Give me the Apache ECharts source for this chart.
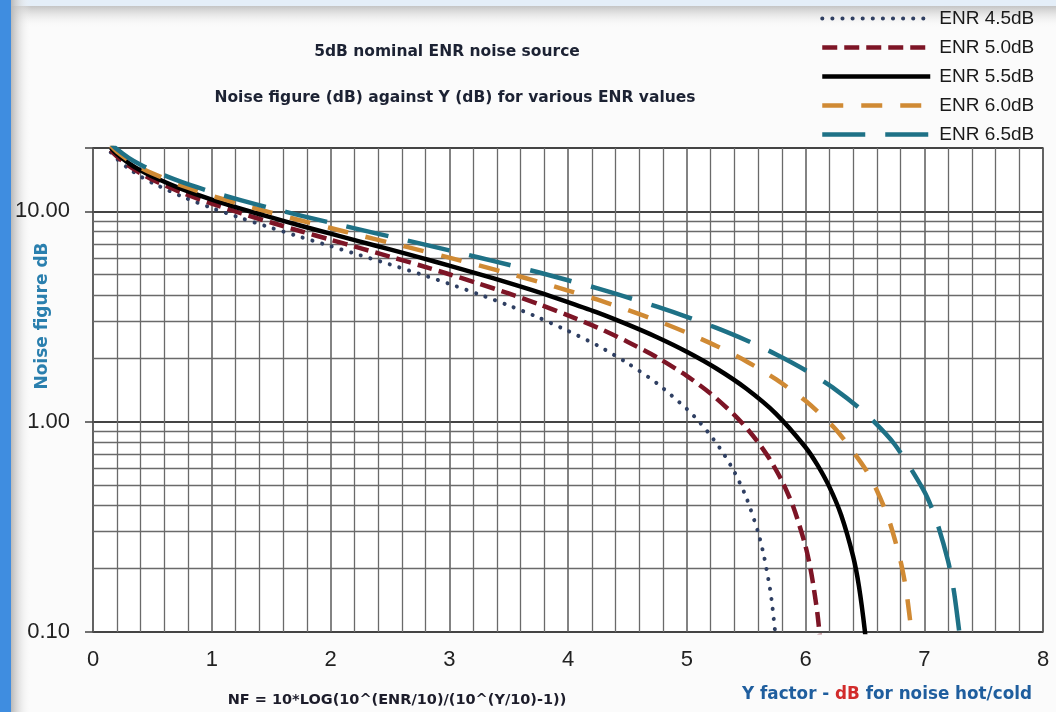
<!DOCTYPE html>
<html>
<head>
<meta charset="utf-8">
<script src="https://cdn.jsdelivr.net/npm/echarts@6/dist/echarts.min.js"></script>
<style>
html,body{margin:0;padding:0;background:#fbfbfb;}
#c{width:1056px;height:712px;}
</style>
</head>
<body>
<div id="c"></div>
<script>
// Values: [Y factor dB, Noise figure dB]
var enr45 = [[0.15,19.04],[0.2,17.77],[0.3,15.96],[0.4,14.65],[0.5,13.64],[0.75,11.75],[1,10.37],[1.25,9.27],[1.5,8.35],[1.75,7.54],[2,6.83],[2.25,6.18],[2.5,5.59],[2.75,5.04],[3,4.52],[3.25,4.03],[3.5,3.57],[3.75,3.13],[4,2.70],[4.25,2.30],[4.5,1.90],[4.75,1.52],[5,1.15],[5.1,1.006],[5.2,0.861],[5.3,0.719],[5.4,0.578],[5.5,0.438],[5.6,0.299],[5.65,0.230],[5.7,0.162],[5.72,0.134],[5.75,0.093]];
var enr50 = [[0.15,19.54],[0.2,18.27],[0.3,16.46],[0.4,15.15],[0.5,14.14],[0.75,12.25],[1,10.87],[1.25,9.77],[1.5,8.85],[1.75,8.04],[2,7.33],[2.25,6.68],[2.5,6.09],[2.75,5.54],[3,5.02],[3.25,4.53],[3.5,4.07],[3.75,3.63],[4,3.20],[4.25,2.80],[4.5,2.40],[4.75,2.02],[5,1.65],[5.2,1.361],[5.4,1.078],[5.5,0.938],[5.6,0.799],[5.7,0.662],[5.8,0.525],[5.9,0.390],[6,0.256],[6.05,0.189],[6.1,0.123],[6.13,0.084]];
var enr55 = [[0.15,20.04],[0.2,18.77],[0.3,16.96],[0.4,15.65],[0.5,14.64],[0.75,12.75],[1,11.37],[1.25,10.27],[1.5,9.35],[1.75,8.54],[2,7.83],[2.25,7.18],[2.5,6.59],[2.75,6.04],[3,5.52],[3.25,5.03],[3.5,4.57],[3.75,4.13],[4,3.70],[4.25,3.30],[4.5,2.90],[4.75,2.52],[5,2.15],[5.25,1.79],[5.5,1.438],[5.75,1.093],[6,0.756],[6.1,0.623],[6.2,0.491],[6.3,0.360],[6.4,0.230],[6.45,0.165],[6.5,0.101],[6.52,0.075]];
var enr60 = [[0.15,20.54],[0.2,19.27],[0.3,17.46],[0.4,16.15],[0.5,15.14],[0.75,13.25],[1,11.87],[1.25,10.77],[1.5,9.85],[1.75,9.04],[2,8.33],[2.25,7.68],[2.5,7.09],[2.75,6.54],[3,6.02],[3.25,5.53],[3.5,5.07],[3.75,4.63],[4,4.20],[4.25,3.80],[4.5,3.40],[4.75,3.02],[5,2.65],[5.25,2.29],[5.5,1.938],[5.75,1.593],[6,1.256],[6.25,0.925],[6.5,0.601],[6.6,0.472],[6.7,0.345],[6.8,0.218],[6.85,0.155],[6.9,0.092]];
var enr65 = [[0.15,21.04],[0.2,19.77],[0.3,17.96],[0.4,16.65],[0.5,15.64],[0.75,13.75],[1,12.37],[1.25,11.27],[1.5,10.35],[1.75,9.54],[2,8.83],[2.25,8.18],[2.5,7.59],[2.75,7.04],[3,6.52],[3.25,6.03],[3.5,5.57],[3.75,5.13],[4,4.70],[4.25,4.30],[4.5,3.90],[4.75,3.52],[5,3.15],[5.25,2.79],[5.5,2.438],[5.75,2.093],[6,1.756],[6.25,1.425],[6.5,1.101],[6.75,0.781],[7,0.466],[7.1,0.342],[7.2,0.218],[7.25,0.156],[7.3,0.095]];
var seriesNames = ['ENR 4.5dB','ENR 5.0dB','ENR 5.5dB','ENR 6.0dB','ENR 6.5dB'];
var minorGridValues = [0.2,0.3,0.4,0.5,0.6,0.7,0.8,0.9,2,3,4,5,6,7,8,9];
var yMin = 0.1, yMax = 20, xMin = 0, xMax = 8;

var chart = echarts.init(document.getElementById('c'));
function curve(name, data, color, width, type, cap){
  return {
    name: name, type: 'line', data: data, showSymbol: false, symbol: 'none',
    smooth: 0.25, clip: true, z: 5,
    lineStyle: {color: color, width: width, type: type, cap: cap || 'butt', join: 'round'},
    itemStyle: {color: color}
  };
}
var bold = 'DejaVu Sans, Verdana, sans-serif';
var plain = 'Liberation Sans, Arial, sans-serif';
var option = {
  animation: false,
  backgroundColor: '#fbfbfb',
  grid: {left: 93, right: 13, top: 148, bottom: 80, show: true, backgroundColor: '#ffffff', borderColor: '#555', borderWidth: 1.5},
  legend: {
    data: seriesNames, orient: 'vertical', left: 820, top: 9, padding: 0,
    itemWidth: 108, itemHeight: 18, itemGap: 10,
    itemStyle: {color: 'rgba(0,0,0,0)', borderColor: 'rgba(0,0,0,0)', borderWidth: 0, opacity: 0},
    lineStyle: {width: 'inherit'},
    textStyle: {fontFamily: plain, fontSize: 19, color: '#1a1a1a', lineHeight: 18, padding: [0,0,0,4]}
  },
  xAxis: {
    type: 'value', min: xMin, max: xMax, interval: 1,
    axisLine: {show: false}, axisTick: {show: false},
    axisLabel: {fontFamily: plain, fontSize: 22, color: '#222', margin: 17},
    splitLine: {show: true, lineStyle: {color: '#5a5a5a', width: 1.5}},
    minorTick: {show: false, splitNumber: 5},
    minorSplitLine: {show: true, lineStyle: {color: '#6a6a6a', width: 1.3}}
  },
  yAxis: {
    type: 'log', logBase: 10, min: yMin, max: yMax,
    axisLine: {show: false},
    axisTick: {show: true, length: 8, lineStyle: {color: '#444', width: 1.5}},
    axisLabel: {
      fontFamily: plain, fontSize: 22, color: '#222', margin: 23,
      formatter: function(v){
        var l = Math.log10(v);
        return Math.abs(l - Math.round(l)) < 1e-6 ? v.toFixed(2) : '';
      }
    },
    splitLine: {show: true, lineStyle: {color: '#444', width: 2}}
  },
  series: [
    {
      name: 'grid', type: 'line', data: [[0,1]], symbol: 'none', lineStyle: {opacity: 0}, z: 1, silent: true,
      markLine: {
        silent: true, symbol: ['none','none'], label: {show: false},
        lineStyle: {color: '#6a6a6a', width: 1.3, type: 'solid'},
        emphasis: {disabled: true},
        data: minorGridValues.map(function(v){ return {yAxis: v}; })
      }
    },
    curve(seriesNames[0], enr45, '#2f3f62', 4, [0.1, 10], 'round'),
    curve(seriesNames[1], enr50, '#7d1526', 4.5, [15, 7]),
    curve(seriesNames[2], enr55, '#000000', 4.5),
    curve(seriesNames[3], enr60, '#d08a34', 4.5, [21, 18]),
    curve(seriesNames[4], enr65, '#1e7186', 4.5, [43, 20])
  ],
  graphic: [
    {type: 'rect', left: 0, top: 0, shape: {width: 1056, height: 6}, style: {fill: '#e4eef8'}, z: -10, silent: true},
    {type: 'rect', left: 0, top: 6, shape: {width: 1056, height: 22},
      style: {fill: {type: 'linear', x: 0, y: 0, x2: 0, y2: 1, colorStops: [{offset: 0, color: '#c4c4c4'}, {offset: 1, color: 'rgba(251,251,251,0)'}]}}, z: -9, silent: true},
    {type: 'rect', left: 11, top: 0, shape: {width: 20, height: 712},
      style: {fill: {type: 'linear', x: 0, y: 0, x2: 1, y2: 0, colorStops: [{offset: 0, color: '#b9b9b9'}, {offset: 1, color: 'rgba(251,251,251,0)'}]}}, z: -8, silent: true},
    {type: 'rect', left: 0, top: 0, shape: {width: 11, height: 712}, style: {fill: '#3f8de0'}, z: -7, silent: true},
    {type: 'text', x: 447, y: 52, z: 10, silent: true,
      style: {text: '5dB nominal ENR noise source', fontFamily: bold, fontWeight: 'bold', fontSize: 15.5, fill: '#1c2233', align: 'center', verticalAlign: 'middle'}},
    {type: 'text', x: 455, y: 98, z: 10, silent: true,
      style: {text: 'Noise figure (dB) against Y (dB) for various ENR values', fontFamily: bold, fontWeight: 'bold', fontSize: 15.5, fill: '#1c2233', align: 'center', verticalAlign: 'middle'}},
    {type: 'text', x: 43, y: 316, rotation: Math.PI / 2, z: 10, silent: true,
      style: {text: 'Noise figure dB', fontFamily: bold, fontWeight: 'bold', fontSize: 17, fill: '#2a7fae', align: 'center', verticalAlign: 'middle'}},
    {type: 'text', x: 397, y: 700, z: 10, silent: true,
      style: {text: 'NF = 10*LOG(10^(ENR/10)/(10^(Y/10)-1))', fontFamily: bold, fontWeight: 'bold', fontSize: 14.5, fill: '#1c1c2a', align: 'center', verticalAlign: 'middle'}},
    {type: 'text', x: 887, y: 695, z: 10, silent: true,
      style: {text: '{b|Y factor - }{r|dB}{b| for noise hot/cold}', align: 'center', verticalAlign: 'middle',
        rich: {
          b: {fontFamily: bold, fontWeight: 'bold', fontSize: 16.8, fill: '#1f5e9e'},
          r: {fontFamily: bold, fontWeight: 'bold', fontSize: 16.8, fill: '#d22b2b'}
        }}}
  ]
};
chart.setOption(option);
</script>
</body>
</html>
